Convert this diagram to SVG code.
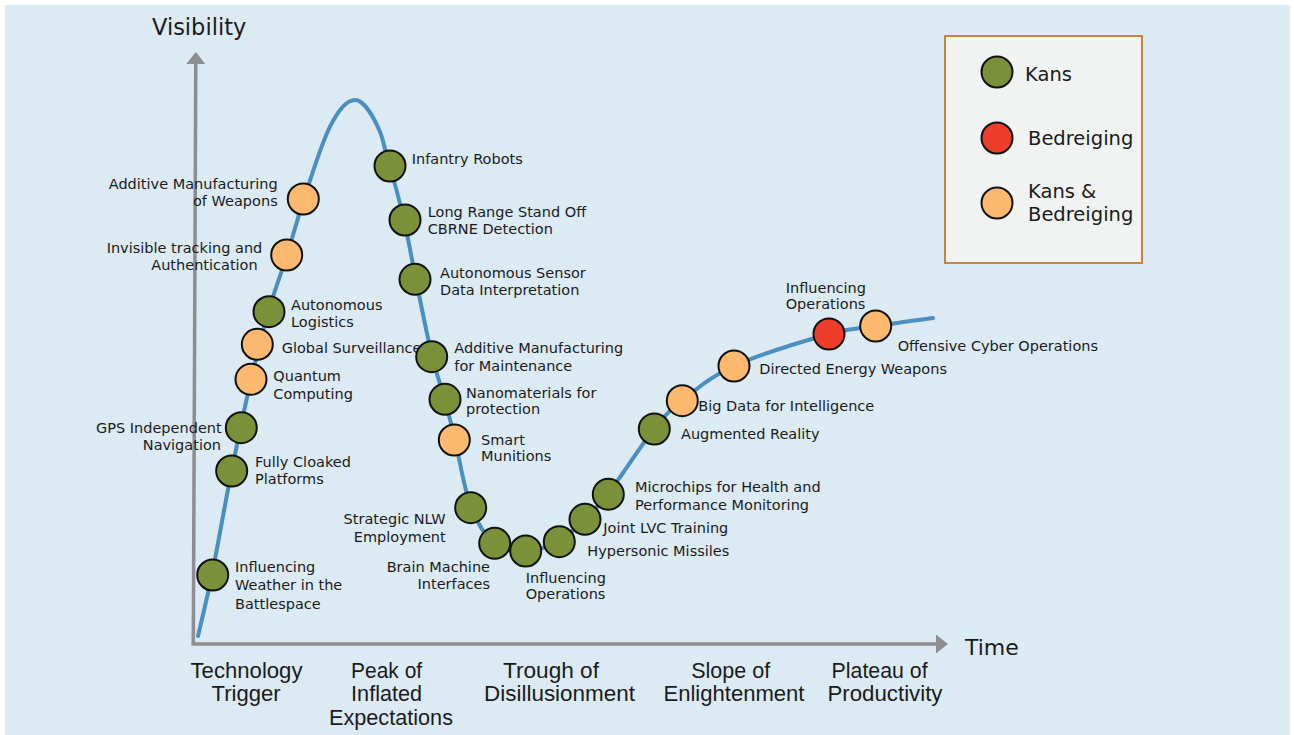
<svg xmlns="http://www.w3.org/2000/svg" width="1294" height="735" viewBox="0 0 1294 735">
  <style>
    .lbl { font-family: "DejaVu Sans", Verdana, sans-serif; font-size: 14.5px; fill: #1b1b1b; }
    .end { text-anchor: end; }
    .phase { font-family: "Liberation Sans", Arial, sans-serif; font-size: 22px; fill: #1b1b1b; text-anchor: middle; }
    .title { font-family: "DejaVu Sans", Verdana, sans-serif; font-size: 22.5px; fill: #1b1b1b; }
    .leg { font-family: "DejaVu Sans", Verdana, sans-serif; font-size: 19.5px; fill: #1b1b1b; }
    .dot { stroke: #111; stroke-width: 2; }
    .kans { fill: #7b9139; }
    .threat { fill: #ee3e2b; }
    .both { fill: #fdb96f; }
    .axis { stroke: #8e8e92; stroke-width: 3.5; fill: none; }
    .curve { stroke: #4a8fc0; stroke-width: 4; fill: none; stroke-linecap: round; }
  </style>
  <defs>
    <marker id="arrow" markerUnits="userSpaceOnUse" markerWidth="14" markerHeight="20" refX="2" refY="10" orient="auto">
      <path d="M0,0.5 L12,10 L0,19.5 Z" fill="#8e8e92"/>
    </marker>
  </defs>

  <!-- canvas -->
  <rect x="0" y="0" width="1294" height="735" fill="#ffffff"/>
  <rect x="5" y="5" width="1285" height="730" fill="#dbeaf3"/>

  <!-- axes -->
  <g id="axes">
    <line class="axis" x1="193.3" y1="644" x2="195.8" y2="62" marker-end="url(#arrow)"/>
    <line class="axis" x1="191.5" y1="644" x2="938" y2="644" marker-end="url(#arrow)"/>
  </g>
  <text class="title" x="152" y="35">Visibility</text>
  <text class="title" x="965" y="655" style="font-size:22px">Time</text>

  <!-- phase labels under the time axis -->
  <g id="phases">
    <text class="phase" x="246.5" y="678" textLength="112" lengthAdjust="spacingAndGlyphs">Technology</text>
    <text class="phase" x="246" y="701" textLength="69" lengthAdjust="spacingAndGlyphs">Trigger</text>
    <text class="phase" x="386.6" y="678" textLength="71" lengthAdjust="spacingAndGlyphs">Peak of</text>
    <text class="phase" x="386.6" y="701" textLength="71" lengthAdjust="spacingAndGlyphs">Inflated</text>
    <text class="phase" x="391" y="725" textLength="124" lengthAdjust="spacingAndGlyphs">Expectations</text>
    <text class="phase" x="551" y="678" textLength="96" lengthAdjust="spacingAndGlyphs">Trough of</text>
    <text class="phase" x="559.5" y="701" textLength="151" lengthAdjust="spacingAndGlyphs">Disillusionment</text>
    <text class="phase" x="730.7" y="678" textLength="79" lengthAdjust="spacingAndGlyphs">Slope of</text>
    <text class="phase" x="734" y="701" textLength="141" lengthAdjust="spacingAndGlyphs">Enlightenment</text>
    <text class="phase" x="879.6" y="678" textLength="96" lengthAdjust="spacingAndGlyphs">Plateau of</text>
    <text class="phase" x="885" y="701" textLength="115" lengthAdjust="spacingAndGlyphs">Productivity</text>
  </g>

  <!-- hype curve -->
  <g id="connectors">
    <path class="curve" d="M198,636
      C200.42,625.33 207,599 212.5,572
      C218,545 224.58,506 231,474
      C237.42,442 244.83,406.83 251,380
      C257.17,353.17 262,333.83 268,313
      C274,292.17 280.83,274.5 287,255
      C293.17,235.5 298.33,215.67 305,196
      C312,174 322,142.7 330,126.7
      C338,110.7 346,100 355,100
      C364,100 374,117.7 380,131.7
      C383.5,139.9 385.3,152.7 389,164
      C394.33,181.33 399.5,200.67 404,220
      C408.5,239.33 411.33,257.33 416,280
      C420.67,302.67 427.17,336 432,356
      C436.83,376 441.17,386 445,400
      C448.83,414 450.67,422.17 455,440
      C459.33,457.83 464.33,489.67 471,507
      C477.67,524.33 485.83,536.67 495,544
      C504.17,551.33 515.33,551.5 526,551
      C536.67,550.5 549.17,546.33 559,541
      C568.83,535.67 576.83,526.83 585,519
      C593.17,511.17 596.5,509 608,494
      C619.5,479 641.5,444.67 654,429
      C666.5,413.33 669.67,410.5 683,400
      C696.33,389.5 709.67,377 734,366
      C758.33,355 805.33,340.67 829,334
      C852.67,327.33 858.67,328.67 876,326
      C893.33,323.33 923.5,319.33 933,318"/>
  </g>

  <!-- technologies -->
  <g id="influencing-weather">
    <circle class="dot kans" cx="212.7" cy="575" r="15.5"/>
    <text class="lbl" x="235" y="571.7">Influencing</text>
    <text class="lbl" x="235" y="590">Weather in the</text>
    <text class="lbl" x="235" y="608.7">Battlespace</text>
  </g>
  <g id="fully-cloaked">
    <circle class="dot kans" cx="231.7" cy="471" r="15.5"/>
    <text class="lbl" x="255" y="467.3">Fully Cloaked</text>
    <text class="lbl" x="255" y="483.8">Platforms</text>
  </g>
  <g id="gps-independent">
    <circle class="dot kans" cx="241.3" cy="427.7" r="15.5"/>
    <text class="lbl end" x="221.7" y="433.3">GPS Independent</text>
    <text class="lbl end" x="221" y="450">Navigation</text>
  </g>
  <g id="quantum">
    <circle class="dot both" cx="251" cy="379.3" r="15.5"/>
    <text class="lbl" x="273.3" y="381">Quantum</text>
    <text class="lbl" x="273.3" y="398.7">Computing</text>
  </g>
  <g id="global-surveillance">
    <circle class="dot both" cx="257.3" cy="344.3" r="15.5"/>
    <text class="lbl" x="281.7" y="352.7">Global Surveillance</text>
  </g>
  <g id="autonomous-logistics">
    <circle class="dot kans" cx="269" cy="311.7" r="15.5"/>
    <text class="lbl" x="291" y="310">Autonomous</text>
    <text class="lbl" x="291" y="326.7">Logistics</text>
  </g>
  <g id="invisible-tracking">
    <circle class="dot both" cx="286.7" cy="255" r="15.5"/>
    <text class="lbl end" x="262.3" y="252.7">Invisible tracking and</text>
    <text class="lbl end" x="257.7" y="270">Authentication</text>
  </g>
  <g id="am-weapons">
    <circle class="dot both" cx="303.3" cy="199" r="15.5"/>
    <text class="lbl end" x="277.7" y="189">Additive Manufacturing</text>
    <text class="lbl end" x="277.7" y="205.7">of Weapons</text>
  </g>
  <g id="infantry-robots">
    <circle class="dot kans" cx="390" cy="166" r="15.5"/>
    <text class="lbl" x="411.7" y="164">Infantry Robots</text>
  </g>
  <g id="cbrne-detection">
    <circle class="dot kans" cx="405" cy="220" r="15.5"/>
    <text class="lbl" x="427.7" y="217.3">Long Range Stand Off</text>
    <text class="lbl" x="427.7" y="234">CBRNE Detection</text>
  </g>
  <g id="sensor-interpretation">
    <circle class="dot kans" cx="415" cy="279.3" r="15.5"/>
    <text class="lbl" x="440" y="278.3">Autonomous Sensor</text>
    <text class="lbl" x="440" y="295.3">Data Interpretation</text>
  </g>
  <g id="am-maintenance">
    <circle class="dot kans" cx="431.7" cy="356.7" r="15.5"/>
    <text class="lbl" x="454.3" y="353.3">Additive Manufacturing</text>
    <text class="lbl" x="454.3" y="370.7">for Maintenance</text>
  </g>
  <g id="nanomaterials">
    <circle class="dot kans" cx="445" cy="399.3" r="15.5"/>
    <text class="lbl" x="466" y="397.7">Nanomaterials for</text>
    <text class="lbl" x="466" y="414">protection</text>
  </g>
  <g id="smart-munitions">
    <circle class="dot both" cx="454.3" cy="440" r="15.5"/>
    <text class="lbl" x="481" y="444.7">Smart</text>
    <text class="lbl" x="481" y="461">Munitions</text>
  </g>
  <g id="strategic-nlw">
    <circle class="dot kans" cx="470.7" cy="507.7" r="15.5"/>
    <text class="lbl end" x="445.7" y="524.2">Strategic NLW</text>
    <text class="lbl end" x="445.7" y="541.7">Employment</text>
  </g>
  <g id="brain-machine">
    <circle class="dot kans" cx="494.7" cy="543.3" r="15.5"/>
    <text class="lbl end" x="490" y="571.7">Brain Machine</text>
    <text class="lbl end" x="490" y="589">Interfaces</text>
  </g>
  <g id="influencing-operations-trough">
    <circle class="dot kans" cx="525.7" cy="551" r="15.5"/>
    <text class="lbl" x="525.7" y="582.7">Influencing</text>
    <text class="lbl" x="525.7" y="599.3">Operations</text>
  </g>
  <g id="hypersonic-missiles">
    <circle class="dot kans" cx="559.3" cy="541.7" r="15.5"/>
    <text class="lbl" x="587.3" y="555.7">Hypersonic Missiles</text>
  </g>
  <g id="joint-lvc">
    <circle class="dot kans" cx="585" cy="519.3" r="15.5"/>
    <text class="lbl" x="603.3" y="532.7">Joint LVC Training</text>
  </g>
  <g id="microchips">
    <circle class="dot kans" cx="608.3" cy="494.3" r="15.5"/>
    <text class="lbl" x="635" y="492.3">Microchips for Health and</text>
    <text class="lbl" x="635" y="510">Performance Monitoring</text>
  </g>
  <g id="augmented-reality">
    <circle class="dot kans" cx="654.3" cy="429" r="15.5"/>
    <text class="lbl" x="681" y="439.3">Augmented Reality</text>
  </g>
  <g id="big-data">
    <circle class="dot both" cx="682.3" cy="400.7" r="15.5"/>
    <text class="lbl" x="698.3" y="410.7">Big Data for Intelligence</text>
  </g>
  <g id="directed-energy">
    <circle class="dot both" cx="734" cy="366" r="15.5"/>
    <text class="lbl" x="759.3" y="374.3">Directed Energy Weapons</text>
  </g>
  <g id="influencing-operations-plateau">
    <circle class="dot threat" cx="829" cy="334" r="15.5"/>
    <text class="lbl" x="785.7" y="292.7">Influencing</text>
    <text class="lbl" x="785.7" y="309">Operations</text>
  </g>
  <g id="offensive-cyber">
    <circle class="dot both" cx="875.7" cy="326" r="15.5"/>
    <text class="lbl" x="897.7" y="350.7">Offensive Cyber Operations</text>
  </g>

  <!-- legend -->
  <g id="legend">
    <rect x="945" y="36" width="197" height="227" fill="#f1f2f2" stroke="#c4853f" stroke-width="2"/>
    <circle class="dot kans" cx="997" cy="72" r="15.5"/>
    <text class="leg" x="1025" y="81">Kans</text>
    <circle class="dot threat" cx="997" cy="138" r="15.5"/>
    <text class="leg" x="1028" y="145">Bedreiging</text>
    <circle class="dot both" cx="997" cy="203" r="15.5"/>
    <text class="leg" x="1028" y="198">Kans &amp;</text>
    <text class="leg" x="1028" y="221">Bedreiging</text>
  </g>
</svg>
